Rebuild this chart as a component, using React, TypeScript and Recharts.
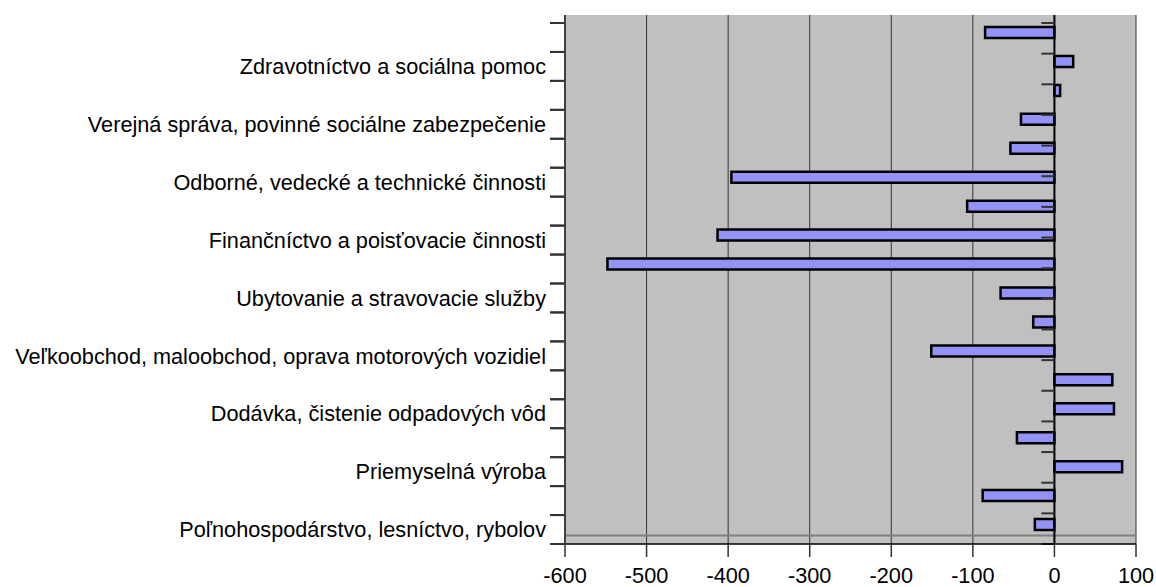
import React from "react";
import {
  BarChart, Bar, XAxis, YAxis, CartesianGrid, ReferenceLine,
} from "recharts";

// categories from bottom to top (Excel order), every other one is labelled
const categories = [
  "Poľnohospodárstvo, lesníctvo, rybolov",
  "Ťažba a dobývanie",
  "Priemyselná výroba",
  "Dodávka elektriny, plynu, pary",
  "Dodávka, čistenie odpadových vôd",
  "Stavebníctvo",
  "Veľkoobchod, maloobchod, oprava motorových vozidiel",
  "Doprava a skladovanie",
  "Ubytovanie a stravovacie služby",
  "Informácie a komunikácia",
  "Finančníctvo a poisťovacie činnosti",
  "Činnosti v oblasti nehnuteľností",
  "Odborné, vedecké a technické činnosti",
  "Administratívne a podporné služby",
  "Verejná správa, povinné sociálne zabezpečenie",
  "Vzdelávanie",
  "Zdravotníctvo a sociálna pomoc",
  "Umenie, zábava a rekreácia",
];

const values = [-24, -88, 83, -46, 73, 71, -151, -26, -66, -548, -413, -107, -396, -54, -41, 7, 23, -85];

const xTicks = [-600, -500, -400, -300, -200, -100, 0, 100];

const data = categories.map((name, i) => ({ name, value: values[i] }));
const boundaries = categories.map((_, i) => i).concat(categories.length);

const FONT = "'Liberation Sans', Arial, sans-serif";
const FONT_SIZE = 21.7;
const TICK_SIZE = 15;
const TICK_MARGIN = 4;

function CategoryTick(props: any) {
  const { x, y, payload } = props;
  const half = payload.offset ?? 0;
  const i = categories.indexOf(payload.value);
  const x1 = x + TICK_MARGIN;
  const x2 = x1 + TICK_SIZE;
  return (
    <g>
      <line x1={x1} x2={x2} y1={y - half} y2={y - half} stroke="#333" strokeWidth={2} />
      <line x1={x1} x2={x2} y1={y + half} y2={y + half} stroke="#333" strokeWidth={2} />
      {i % 2 === 0 && (
        <text x={x} y={y} dy="0.355em" textAnchor="end" fontSize={FONT_SIZE} fontFamily={FONT} fill="#000">
          {payload.value}
        </text>
      )}
    </g>
  );
}

export default function App() {
  return (
    <div style={{ position: "absolute", left: 0, top: 0, background: "#fff" }}>
      <BarChart
        width={1156}
        height={587}
        data={data}
        layout="vertical"
        margin={{ top: 15, right: 20, bottom: 0, left: 0 }}
        barGap={0}
      >
        <CartesianGrid
          xAxisId={0}
          yAxisId="cat"
          horizontal={false}
          fill="#C0C0C0"
          fillOpacity={1}
          stroke="#333"
          strokeWidth={1}
        />
        <XAxis
          type="number"
          domain={[-600, 100]}
          ticks={xTicks}
          interval={0}
          height={43}
          tickSize={13}
          tickMargin={11}
          axisLine={{ stroke: "#000", strokeWidth: 1.5 }}
          tickLine={{ stroke: "#333", strokeWidth: 1.5 }}
          tick={{ fill: "#000", fontSize: FONT_SIZE, fontFamily: FONT }}
        />
        <XAxis
          xAxisId="top"
          orientation="top"
          type="number"
          domain={[-600, 100]}
          height={0}
          tick={false}
          tickLine={false}
          axisLine={{ stroke: "#808080", strokeWidth: 2 }}
        />
        <YAxis
          yAxisId="cat"
          type="category"
          dataKey="name"
          reversed
          width={565}
          interval={0}
          padding={{ top: 8, bottom: 0 }}
          tickSize={TICK_SIZE}
          tickMargin={TICK_MARGIN}
          tickLine={false}
          axisLine={{ stroke: "#404040", strokeWidth: 2 }}
          tick={<CategoryTick />}
        />
        <YAxis
          yAxisId="num"
          orientation="right"
          type="number"
          reversed
          domain={[0, categories.length]}
          padding={{ top: 8, bottom: 0 }}
          width={0}
          tick={false}
          tickLine={false}
          axisLine={{ stroke: "#808080", strokeWidth: 2 }}
        />
        <ReferenceLine yAxisId="num" y={0.28} stroke="#808080" strokeWidth={2} />
        <ReferenceLine yAxisId="num" x={0} stroke="#000" strokeWidth={2} />
        {boundaries.map((b) => (
          <ReferenceLine
            key={b}
            yAxisId="num"
            segment={[{ x: -16, y: b }, { x: 0, y: b }]}
            stroke="#333"
            strokeWidth={2}
          />
        ))}
        <Bar
          yAxisId="cat"
          dataKey="value"
          barSize={11}
          fill="#9393F7"
          stroke="#000"
          strokeWidth={2.5}
          isAnimationActive={false}
        />
        <Bar yAxisId="cat" dataKey="ghost" barSize={9} fill="none" isAnimationActive={false} />
      </BarChart>
    </div>
  );
}
